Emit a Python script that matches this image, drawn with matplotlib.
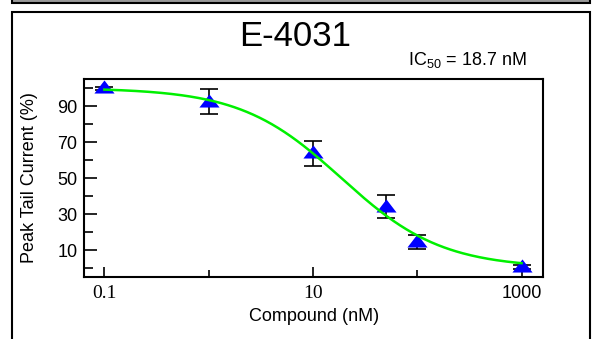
import numpy as np
import matplotlib.pyplot as plt
from matplotlib.patches import Rectangle
from matplotlib.ticker import FixedLocator, NullFormatter

plt.rcParams['font.family'] = ['Liberation Sans', 'DejaVu Sans']

# data
conc = [0.1, 1, 10, 50, 100, 1000]          # nM
resp = [99.8, 92.5, 63.7, 34.1, 14.6, 0.7]  # % peak tail current
err = [0.8, 7.0, 6.8, 6.2, 4.0, 1.0]

# fitted Hill curve parameters
ic50 = 18.7
hill = 0.9
top, bottom = 100.0, 0.0

xticks = [0.1, 10, 1000]
xtick_labels = ['0.1', '10', '1000']
xminor = [1, 100]
yticks = [10, 30, 50, 70, 90]
yminor = [0, 20, 40, 60, 80, 100]

fig = plt.figure(figsize=(5.93, 3.39), dpi=100)

# frame around the panel and the strip above it
fig.patches.append(Rectangle((12 / 593, -0.05), 578 / 593, 1.05 - 12 / 339,
                             transform=fig.transFigure, fill=False,
                             edgecolor='black', linewidth=1.5))
fig.patches.append(Rectangle((12 / 593, 1 - 2.5 / 339), 578 / 593, 0.1,
                             transform=fig.transFigure, facecolor='#9a9a9a',
                             edgecolor='black', linewidth=1.5))

ax = fig.add_axes([84.3 / 593, 1 - 276.7 / 339, 458.7 / 593, 197.7 / 339])

xfit = np.logspace(-1, 3, 200)
yfit = bottom + (top - bottom) / (1 + (xfit / ic50) ** hill)

ax.errorbar(conc, resp, yerr=err, fmt='none', ecolor='black',
            elinewidth=1.2, capsize=6.5, capthick=1.2, zorder=2)
tri = [(-1, -0.5), (1, -0.5), (0, 0.8)]
ax.plot(conc, resp, linestyle='none', marker=tri, markersize=14.5,
        color='#0000ff', markeredgewidth=0, zorder=3)
ax.plot(xfit, yfit, color='#00f000', linewidth=1.8, zorder=4)

ax.set_xscale('log')
ax.set_xlim(0.0643, 1607)
ax.set_ylim(-4.8, 105)

ax.xaxis.set_major_locator(FixedLocator(xticks))
ax.xaxis.set_minor_locator(FixedLocator(xminor))
ax.xaxis.set_minor_formatter(NullFormatter())
ax.set_xticklabels(xtick_labels)
for lab in ax.get_xticklabels():
    if lab.get_text() == '1000':
        lab.set_fontfamily('Liberation Sans')
        lab.set_fontsize(13)
    else:
        lab.set_fontfamily('Liberation Serif')
        lab.set_fontsize(14)

ax.set_yticks(yticks)
ax.yaxis.set_minor_locator(FixedLocator(yminor))
ax.tick_params(axis='y', which='major', labelsize=13)

ax.tick_params(which='both', direction='in', top=False, right=False,
               width=1.2, color='black')
ax.tick_params(axis='y', which='major', length=9, pad=5)
ax.tick_params(axis='y', which='minor', length=6.5)
ax.tick_params(axis='x', which='major', length=7.5, pad=6)
ax.tick_params(axis='x', which='minor', length=5)

for s in ax.spines.values():
    s.set_linewidth(1.5)

ax.set_xlabel('Compound (nM)', fontsize=13, labelpad=4)
ax.set_ylabel('Peak Tail Current (%)', fontsize=13, labelpad=14)

fig.text(295 / 593, 1 - 37 / 339, 'E-4031', fontsize=25, ha='center', va='center')
fig.text(527 / 593, 1 - 60 / 339, r'IC$_{\mathregular{50}}$ = 18.7 nM', fontsize=13,
         ha='right', va='center')

fig.savefig('out.png', dpi=100)
